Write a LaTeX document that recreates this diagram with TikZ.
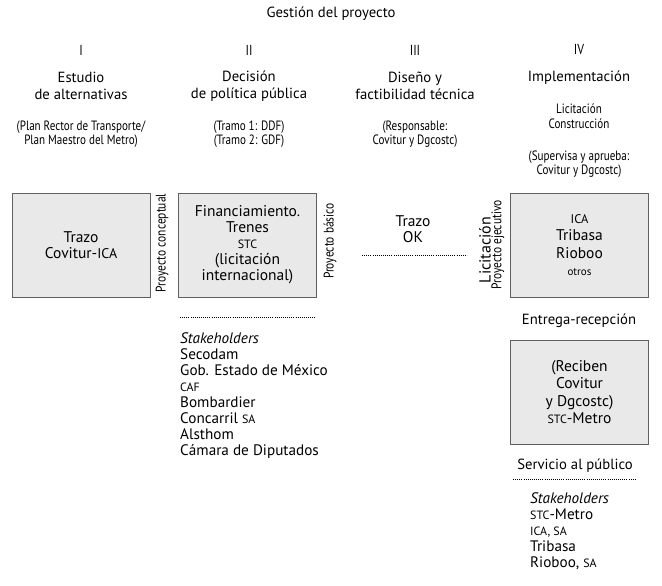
\documentclass[tikz,border=0pt]{standalone}
\usepackage{fontspec}
\setmainfont{PT Sans}
\newfontfamily\condfont[FakeStretch=0.82]{PT Sans}
\usepackage{tikz}
\newcommand{\smalltxt}[1]{{\fontsize{12}{12}\selectfont #1}}
\tikzset{stage box/.style={
  draw=gray!75!black, fill=gray!17, line width=0.8pt,
  minimum width=138pt, minimum height=104pt,
  align=center, font=\fontsize{15.5}{16}\selectfont
  },
  head text/.style={align=center, font=\fontsize{14.7}{17}\selectfont},
  note text/.style={align=center, font=\condfont\fontsize{13.5}{14.5}\selectfont},
  side text/.style={rotate=90, inner sep=0pt, font=\condfont\fontsize{14}{14}\selectfont},
  list text/.style={align=left, anchor=north west, inner sep=0pt, font=\fontsize{15.2}{16}\selectfont},
  my dots/.style={line width=0.7pt, dash pattern=on 0.8pt off 1.3pt}
}

\begin{document}
\begin{tikzpicture}[x=1pt,y=-1pt]
    \useasboundingbox (0,0) rectangle (662,586);

    \node[head text] (T) at (331,14) {Gestión del proyecto};

    \foreach \x/\r [count=\n] in {81/I,249/II,415/III,579/IV}
        \node[note text,font=\condfont\fontsize{14.5}{14}\selectfont] (R\n) at (\x,50) {\r};

    \node[head text] (H1) at (81,86) {Estudio\\de alternativas};
    \node[head text] (H2) at (249,86) {Decisión\\de política pública};
    \node[head text] (H3) at (415,86) {Diseño y\\factibilidad técnica};
    \node[head text] (H4) at (579,78) {Implementación};

    \node[note text] (P1) at (81,134) {(Plan Rector de Transporte/\\Plan Maestro del Metro)};
    \node[note text] (P2) at (249,134) {(Tramo 1: DDF)\\(Tramo 2: GDF)};
    \node[note text] (P3) at (415,134) {(Responsable:\\Covitur y Dgcostc)};
    \node[note text] (P4) at (579,116) {Licitación\\Construcción};
    \node[note text] (P5) at (579,164) {(Supervisa y aprueba:\\Covitur y Dgcostc)};

    \node[stage box] (B1) at (81,245) {Trazo\\Covitur-{\fontsize{14}{14}\selectfont ICA}};
    \node[stage box] (B2) at (247.5,245) {Financiamiento.\\Trenes\\\smalltxt{STC}\\(licitación\\internacional)};
    \node[stage box,font=\fontsize{15.5}{17.5}\selectfont] (B3) at (579.5,245) {{\fontsize{12.5}{12.5}\selectfont ICA}\\Tribasa\\Rioboo\\{\fontsize{11}{11}\selectfont otros}};
    \node[stage box,font=\fontsize{15.5}{17.5}\selectfont] (B4) at (579.5,392) {(Reciben\\Covitur\\y Dgcostc)\\\smalltxt{STC}-Metro};

    \node[side text] (S1) at (162,243) {Proyecto conceptual};
    \node[side text] (S2) at (330,241) {Proyecto básico};
    \node[side text,font=\fontsize{16}{16}\selectfont] (S3) at (485,250) {Licitación};
    \node[side text] (S4) at (498,245) {Proyecto ejecutivo};

    \node[head text,font=\fontsize{15.5}{16.5}\selectfont] (K) at (413,229) {Trazo\\OK};
    \coordinate (D1) at (362,255);
    \coordinate (D2) at (467,255);
    \draw[my dots] (D1) -- (D2);

    \coordinate (D3) at (180,317);
    \coordinate (D4) at (316,317);
    \draw[my dots] (D3) -- (D4);

    \node[list text] (L1) at (180,332) {\textit{Stakeholders}\\Secodam\\Gob. Estado de México\\\smalltxt{CAF}\\Bombardier\\Concarril \smalltxt{SA}\\Alsthom\\Cámara de Diputados};

    \node[head text] (E) at (579,321) {Entrega-recepción};
    \node[head text] (F) at (575,466) {Servicio al público};
    \coordinate (D5) at (513,479);
    \coordinate (D6) at (636,479);
    \draw[my dots] (D5) -- (D6);

    \node[list text] (L2) at (530,492) {\textit{Stakeholders}\\\smalltxt{STC}-Metro\\\smalltxt{ICA, SA}\\Tribasa\\Rioboo, \smalltxt{SA}};
\end{tikzpicture}
\end{document}
